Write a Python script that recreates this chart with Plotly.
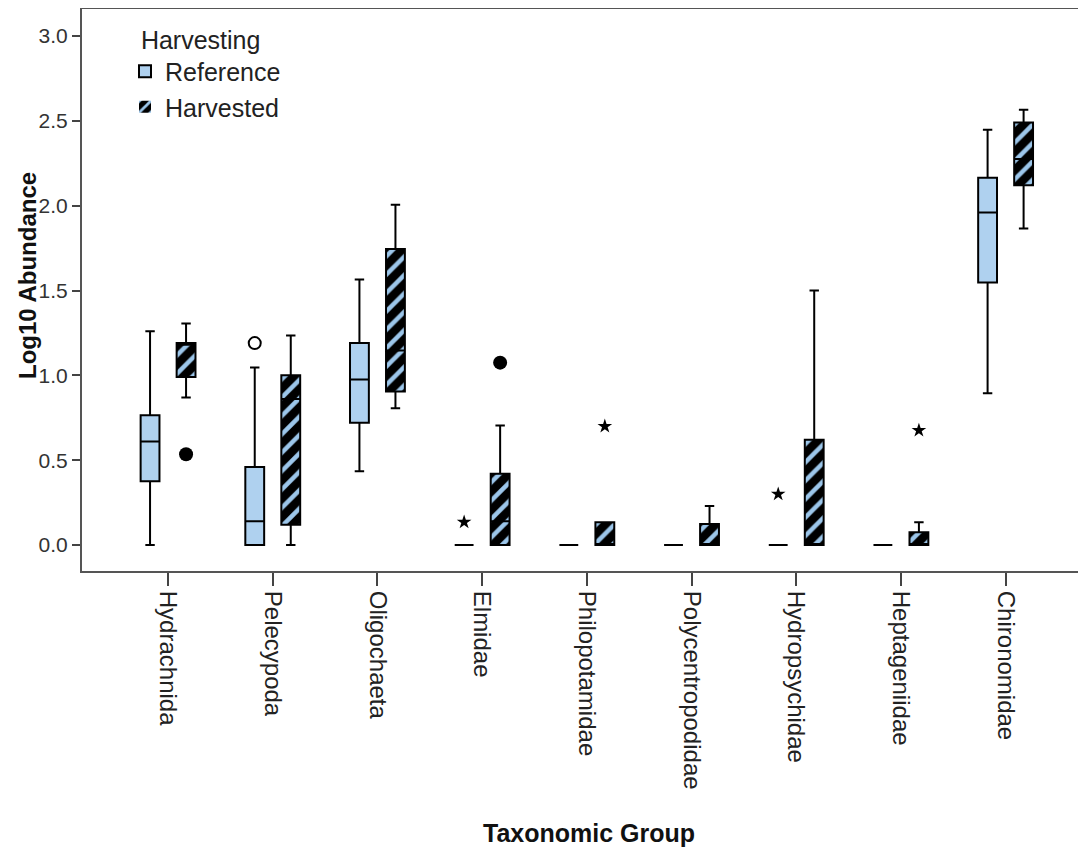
import plotly.graph_objects as go

categories = ["Hydrachnida", "Pelecypoda", "Oligochaeta", "Elmidae", "Philopotamidae",
              "Polycentropodidae", "Hydropsychidae", "Heptageniidae", "Chironomidae"]

# Reference group box statistics
ref_low = [0.00, 0.00, 0.435, 0.0, 0.0, 0.0, 0.0, 0.0, 0.894]
ref_q1 = [0.376, 0.00, 0.72, 0.0, 0.0, 0.0, 0.0, 0.0, 1.547]
ref_med = [0.61, 0.14, 0.975, 0.0, 0.0, 0.0, 0.0, 0.0, 1.96]
ref_q3 = [0.765, 0.46, 1.19, 0.0, 0.0, 0.0, 0.0, 0.0, 2.165]
ref_high = [1.26, 1.047, 1.565, 0.0, 0.0, 0.0, 0.0, 0.0, 2.447]

# Harvested group box statistics
har_low = [0.87, 0.00, 0.806, 0.0, 0.0, 0.0, 0.0, 0.0, 1.865]
har_q1 = [0.99, 0.12, 0.905, 0.0, 0.0, 0.0, 0.0, 0.0, 2.12]
har_med = [1.18, 0.86, 1.147, 0.14, 0.0, 0.0, 0.0, 0.0, 2.275]
har_q3 = [1.19, 1.00, 1.745, 0.42, 0.135, 0.124, 0.62, 0.076, 2.49]
har_high = [1.306, 1.235, 2.005, 0.705, 0.135, 0.23, 1.50, 0.135, 2.565]

# Outliers: (category, group, value, kind)  kind: "out" open circle, "far" filled circle, "ext" star
out_cat = ["Pelecypoda", "Hydrachnida", "Elmidae", "Elmidae", "Philopotamidae", "Hydropsychidae", "Heptageniidae"]
out_grp = ["Reference", "Harvested", "Harvested", "Reference", "Harvested", "Reference", "Harvested"]
out_val = [1.19, 0.535, 1.075, 0.135, 0.70, 0.30, 0.676]
out_kind = ["out", "far", "far", "ext", "ext", "ext", "ext"]

yticks = [0.0, 0.5, 1.0, 1.5, 2.0, 2.5, 3.0]

REF_COLOR = "#afd1ef"
STRIPE = "#9cc6ea"
FONT = "Arial, Liberation Sans, sans-serif"
OFF = 0.172
BW = 0.18

idx = list(range(len(categories)))
ref_x = [i - OFF for i in idx]
har_x = [i + OFF for i in idx]

fig = go.Figure()

fig.add_trace(go.Box(
    name="Reference", x=ref_x, q1=ref_q1, median=ref_med, q3=ref_q3,
    lowerfence=ref_low, upperfence=ref_high, width=BW, whiskerwidth=0.5,
    fillcolor=REF_COLOR, line=dict(color="black", width=2), boxpoints=False,
    showlegend=True, hoverinfo="skip"))

fig.add_trace(go.Bar(
    name="Harvested", x=har_x, base=har_q1,
    y=[q3 - q1 for q1, q3 in zip(har_q1, har_q3)], width=BW,
    marker=dict(color="black", line=dict(width=0),
                pattern=dict(shape="/", bgcolor="black", fgcolor=STRIPE,
                             size=13, solidity=0.35, fillmode="replace")),
    showlegend=True, hoverinfo="skip"))

fig.add_trace(go.Box(
    name="Harvested", x=har_x, q1=har_q1, median=har_med, q3=har_q3,
    lowerfence=har_low, upperfence=har_high, width=BW, whiskerwidth=0.5,
    fillcolor="rgba(0,0,0,0)", line=dict(color="black", width=2), boxpoints=False,
    showlegend=False, hoverinfo="skip"))

symbols = {"out": ("circle-open", 12), "far": ("circle", 14), "ext": ("star", 11)}
for kind, (sym, size) in symbols.items():
    xs, ys = [], []
    for c, g, v, k in zip(out_cat, out_grp, out_val, out_kind):
        if k != kind:
            continue
        i = categories.index(c)
        xs.append(i - OFF if g == "Reference" else i + OFF)
        ys.append(v)
    fig.add_trace(go.Scatter(
        x=xs, y=ys, mode="markers", showlegend=False, hoverinfo="skip",
        marker=dict(symbol=sym, size=size, color="black",
                    line=dict(color="black", width=2 if kind == "out" else 0))))

# page is rendered with an 8px body margin, so the figure is shifted by 8px
PAGE_OFF = 8
W, H = 1086 - PAGE_OFF, 852 - PAGE_OFF
L = 82 - PAGE_OFF
T = 1
B = H - (571 - PAGE_OFF)
PW = W - L
PH = H - T - B


def px_to_paper_x(px):
    return (px - PAGE_OFF - L) / PW


def px_to_paper_y(py):
    return (H - B - (py - PAGE_OFF)) / PH


fig.update_layout(
    width=W, height=H,
    margin=dict(l=L, r=0, t=T, b=B, pad=0, autoexpand=False),
    paper_bgcolor="white", plot_bgcolor="white",
    boxmode="overlay", barmode="overlay",
    font=dict(family=FONT, color="#222"),
    showlegend=True,
    legend=dict(x=px_to_paper_x(125), y=px_to_paper_y(16), xanchor="left", yanchor="top",
                bgcolor="rgba(255,255,255,0)", font=dict(size=25, family=FONT, color="#222"),
                title=dict(text="\u00a0\u00a0Harvesting", font=dict(size=25, family=FONT, color="#222")),
                tracegroupgap=2, itemwidth=30),
    xaxis=dict(
        range=[-0.822, 8.768], tickmode="array", tickvals=idx, ticktext=categories,
        tickangle=90, tickfont=dict(size=24, family=FONT, color="#222"),
        ticks="outside", ticklen=13, tickwidth=1.5, tickcolor="#444",
        showline=True, linecolor="#555", linewidth=2, mirror=True,
        showgrid=False, zeroline=False, fixedrange=True, automargin=False),
    yaxis=dict(
        range=[-0.153, 3.159], tickmode="array", tickvals=yticks,
        ticktext=[f"{v:.1f}" for v in yticks],
        tickfont=dict(size=21, family=FONT, color="#333"),
        ticks="outside", ticklen=8, tickwidth=1.5, tickcolor="#444",
        showline=True, linecolor="#555", linewidth=2, mirror=False,
        showgrid=False, zeroline=False, fixedrange=True, automargin=False),
    annotations=[
        dict(text="<b>Taxonomic Group</b>", xref="paper", yref="paper",
             x=px_to_paper_x(589), y=px_to_paper_y(833),
             xanchor="center", yanchor="middle", showarrow=False,
             font=dict(size=25, family=FONT, color="#111")),
        dict(text="<b>Log10 Abundance</b>", xref="paper", yref="paper",
             x=px_to_paper_x(27), y=px_to_paper_y(276),
             xanchor="center", yanchor="middle", showarrow=False, textangle=-90,
             font=dict(size=24, family=FONT, color="#111")),
    ],
)

fig.write_html("out.html")
